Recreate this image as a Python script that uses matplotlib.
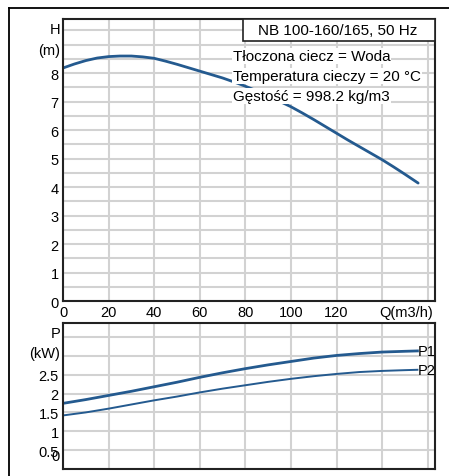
import matplotlib
matplotlib.use("Agg")
import matplotlib.pyplot as plt
from matplotlib.patches import Rectangle
from matplotlib.lines import Line2D

plt.rcParams['font.family'] = ['Liberation Sans', 'DejaVu Sans']

# przepływ Q (m3/h) i wysokość podnoszenia H (m)
q_h = [0, 5, 10, 15, 20, 25, 30, 35, 40, 45, 50, 55, 60, 65, 70, 75, 80, 85, 90, 95,
       100, 105, 110, 115, 120, 125, 130, 135, 140, 145, 150, 155.8]
h_m = [8.18, 8.32, 8.44, 8.53, 8.58, 8.6, 8.6, 8.57, 8.52, 8.42, 8.31, 8.19, 8.07, 7.95,
       7.83, 7.69, 7.54, 7.38, 7.2, 7.01, 6.82, 6.6, 6.37, 6.13, 5.89, 5.65, 5.42, 5.19,
       4.96, 4.71, 4.45, 4.14]

# moc P1 / P2 (kW)
q_p = [0, 10, 20, 30, 40, 50, 60, 70, 80, 90, 100, 110, 120, 130, 140, 150, 155.5]
p1 = [1.74, 1.84, 1.95, 2.06, 2.18, 2.3, 2.43, 2.55, 2.66, 2.76, 2.85, 2.94, 3.01, 3.06, 3.1, 3.12, 3.13]
p2 = [1.42, 1.5, 1.6, 1.71, 1.82, 1.92, 2.03, 2.13, 2.22, 2.31, 2.39, 2.46, 2.52, 2.57, 2.6, 2.62, 2.63]

x_ticks = [0, 20, 40, 60, 80, 100, 120]
h_ticks = [0, 1, 2, 3, 4, 5, 6, 7, 8]
p_ticks = [0.5, 1, 1.5, 2, 2.5]

W, H = 449, 477
BLUE = '#245a8f'
GRID = '#d2d2d2'
FS = 10.5

fig = plt.figure(figsize=(W / 100, H / 100), dpi=100)


def px(x0, y0, x1, y1):
    # prostokąt w pikselach -> ułamki figury
    return [x0 / W, 1 - y1 / H, (x1 - x0) / W, (y1 - y0) / H]


ax1 = fig.add_axes(px(63, 20, 435, 302))
ax2 = fig.add_axes(px(63, 324, 435, 470))

for ax in (ax1, ax2):
    ax.set_xlim(0, 163.2)
    ax.set_xticks(range(0, 161, 20))
    ax.grid(True, color=GRID, linewidth=1.5)
    ax.set_axisbelow(True)
    for s in ax.spines.values():
        s.set_linewidth(1.5)
        s.set_color('#222222')
    ax.tick_params(length=0, labelsize=FS, pad=3)

# wykres H
h_grid = [i * 0.5 for i in range(20)]
ax1.set_ylim(0, 9.9)
ax1.set_yticks(h_grid)
ax1.set_yticklabels([str(int(v)) if v in h_ticks else '' for v in h_grid])
ax1.set_xticklabels([str(v) if v in x_ticks else '' for v in range(0, 161, 20)])
ax1.plot(q_h, h_m, color=BLUE, linewidth=2.0, solid_capstyle='round')
ax1.text(-0.008, 9.55, 'H', transform=ax1.get_yaxis_transform(), ha='right', va='center', fontsize=FS)
ax1.text(-0.008, 8.8, '(m)', transform=ax1.get_yaxis_transform(), ha='right', va='center', fontsize=FS)
ax1.text(0.995, -0.014, 'Q(m3/h)', transform=ax1.transAxes, ha='right', va='top', fontsize=FS)

# ramka z nazwą pompy
ax1.add_patch(Rectangle(((243 - 63) / 372, (302 - 42) / 282), (435 - 243) / 372, 22 / 282,
                        transform=ax1.transAxes, facecolor='white', edgecolor='#222222',
                        linewidth=1.2, zorder=4))
ax1.text((338 - 63) / 372, (302 - 31) / 282, 'NB 100-160/165, 50 Hz', transform=ax1.transAxes,
         ha='center', va='center', fontsize=11, zorder=5)

info = ['Tłoczona ciecz = Woda', 'Temperatura cieczy = 20 °C', 'Gęstość = 998.2 kg/m3']
for i, line in enumerate(info):
    ax1.text((233 - 63) / 372, (302 - 57 - 20 * i) / 282, line, transform=ax1.transAxes,
             ha='left', va='center', fontsize=11, zorder=5,
             bbox=dict(facecolor='white', edgecolor='none', pad=0.5))

# wykres P
p_grid = [i * 0.5 for i in range(8)]
ax2.set_ylim(0, 3.87)
ax2.set_yticks(p_grid)
ax2.set_yticklabels([('%g' % v) if v in p_ticks else '' for v in p_grid])
ax2.set_xticklabels([])
ax2.plot(q_p, p1, color=BLUE, linewidth=2.0)
ax2.plot(q_p, p2, color=BLUE, linewidth=1.4)
ax2.text(-0.008, 3.6, 'P', transform=ax2.get_yaxis_transform(), ha='right', va='center', fontsize=FS)
ax2.text(-0.008, 3.08, '(kW)', transform=ax2.get_yaxis_transform(), ha='right', va='center', fontsize=FS)
ax2.text(-0.008, 0.34, '0', transform=ax2.get_yaxis_transform(), ha='right', va='center', fontsize=FS)
ax2.text(q_p[-1], p1[-1], 'P1', ha='left', va='center', fontsize=FS, clip_on=False)
ax2.text(q_p[-1], p2[-1], 'P2', ha='left', va='center', fontsize=FS, clip_on=False)

# zewnętrzna ramka (góra i lewa strona)
fig.add_artist(Line2D([9 / W, 9 / W], [0, 1 - 9 / H], color='black', linewidth=1.3))
fig.add_artist(Line2D([9 / W, 1], [1 - 9 / H, 1 - 9 / H], color='black', linewidth=1.3))

fig.savefig('out.png', dpi=100)
